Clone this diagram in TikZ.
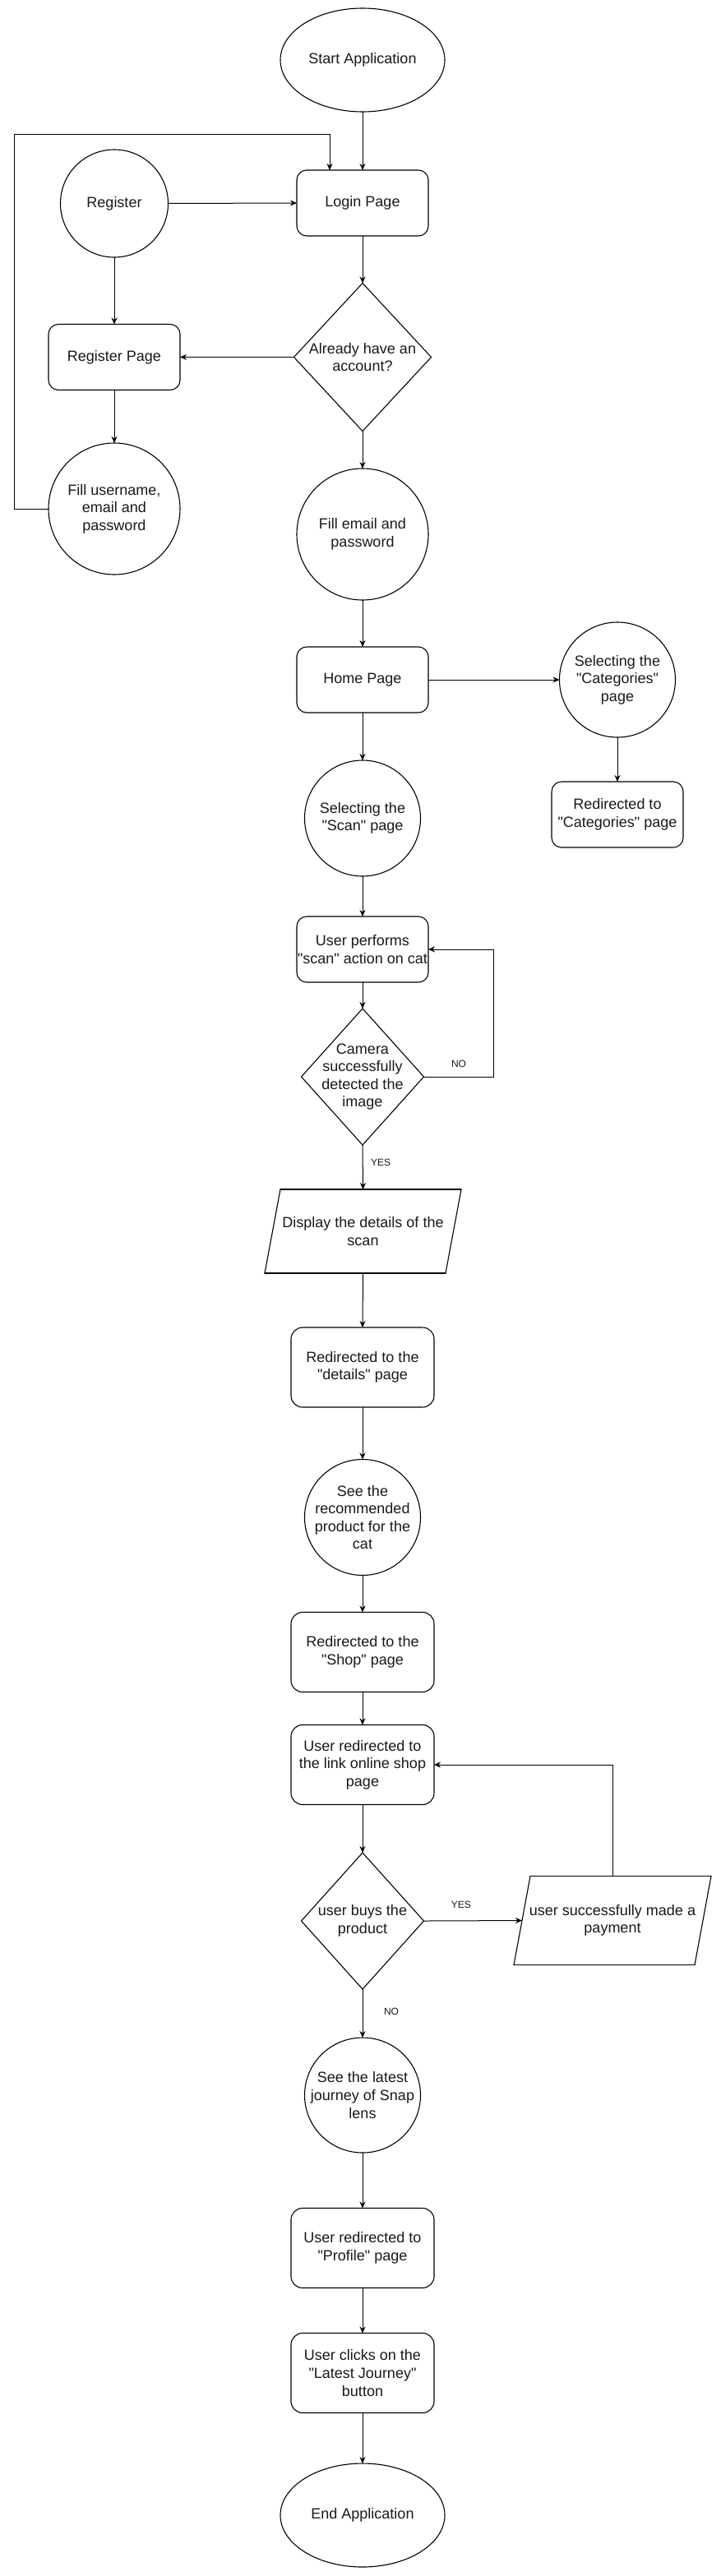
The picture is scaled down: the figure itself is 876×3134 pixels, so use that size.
\documentclass[tikz,border=0pt]{standalone}
\usepackage{fontspec}
\newfontfamily\dio{Liberation Sans}
\usetikzlibrary{shapes.geometric,arrows.meta}
\begin{document}
\begin{tikzpicture}[x=1pt,y=-1pt,
  every node/.style={inner sep=0pt, outer sep=0pt, align=center, text=black!90,
    font=\dio\fontsize{18pt}{21.6pt}\selectfont},
  shp/.style={draw=black, line width=1.1pt},
  rbox/.style={shp, rectangle, rounded corners=12pt, minimum width=160pt, minimum height=80pt},
  rboxb/.style={shp, rectangle, rounded corners=14pt, minimum width=174pt, minimum height=97pt},
  oval/.style 2 args={shp, ellipse, inner sep=-90pt, minimum width=#1, minimum height=#2},
  dia/.style 2 args={shp, diamond, inner sep=-90pt, minimum width=#1, minimum height=#2},
  para/.style n args={3}{rectangle, minimum width=#1, minimum height=#2,
    append after command={
      ([xshift=#3]\tikzlastnode.north west) edge[shp, line cap=round] (\tikzlastnode.north east)
      (\tikzlastnode.north east) edge[shp, line cap=round] ([xshift=-#3]\tikzlastnode.south east)
      ([xshift=-#3]\tikzlastnode.south east) edge[shp, line cap=round] (\tikzlastnode.south west)
      (\tikzlastnode.south west) edge[shp, line cap=round] ([xshift=#3]\tikzlastnode.north west)}},
  arr/.style={draw=black, line width=1pt, -{Stealth[length=8pt,width=7pt]}},
  lbl/.style={font=\dio\fontsize{12pt}{14pt}\selectfont}
]
\fill[white] (0,0) rectangle (876,3134);
\useasboundingbox (0,0) rectangle (876,3134);

\node[oval={200pt}{126pt}] (start) at (441,73) {Start Application};
\node[rbox] (login) at (441,247) {Login Page};
\node[oval={131pt}{131pt}] (reg) at (139,247.5) {Register};
\node[dia={167pt}{180pt}] (acc) at (441,434.5) {Already have an\\account?};
\node[rbox] (regp) at (139,434.5) {Register Page};
\node[oval={160pt}{160pt}] (fillu) at (139,619) {Fill username,\\email and\\password};
\node[oval={160pt}{160pt}] (fille) at (441,650) {Fill email and\\password};
\node[rbox] (home) at (441,827) {Home Page};
\node[oval={141pt}{140pt}] (selcat) at (751,827) {Selecting the\\"Categories"\\page};
\node[rbox] (redcat) at (751,991) {Redirected to\\"Categories" page};
\node[oval={141pt}{141pt}] (selscan) at (441,995.5) {Selecting the\\"Scan" page};
\node[rbox] (perf) at (441,1155) {User performs\\"scan" action on cat};
\node[dia={149pt}{166pt}] (cam) at (441,1310) {Camera\\successfully\\detected the\\image};
\node[para={239pt}{102pt}{19pt}] (disp) at (441.5,1498) {Display the details of the\\scan};
\node[rboxb] (det) at (441,1663.5) {Redirected to the\\"details" page};
\node[oval={141pt}{141pt}] (rec) at (441,1846) {See the\\recommended\\product for the\\cat};
\node[rboxb] (shop) at (441,2010) {Redirected to the\\"Shop" page};
\node[rboxb] (link) at (441,2147) {User redirected to\\the link online shop\\page};
\node[dia={149pt}{166pt}] (buy) at (441,2337) {user buys the\\product};
\node[para={240pt}{108pt}{20pt}] (pay) at (745,2336.5) {user successfully made a\\payment};
\node[oval={141pt}{140pt}] (late) at (441,2549) {See the latest\\journey of Snap\\lens};
\node[rboxb] (prof) at (441,2735) {User redirected to\\"Profile" page};
\node[rboxb] (click) at (441,2887) {User clicks on the\\"Latest Journey"\\button};
\node[oval={200pt}{126pt}] (endn) at (441,3060) {End Application};

\coordinate (lp) at (17,163);

\draw[arr] (start.south) -- (login.north);
\draw[arr] (reg.east) -- (login.west);
\draw[arr] (login.south) -- (acc.north);
\draw[arr] (acc.west) -- (regp.east);
\draw[arr] (reg.south) -- (regp.north);
\draw[arr] (regp.south) -- (fillu.north);
\draw[arr] (fillu.west) -| (lp) -| ([xshift=-40pt]login.north);
\draw[arr] (acc.south) -- (fille.north);
\draw[arr] (fille.south) -- (home.north);
\draw[arr] (home.east) -- (selcat.west);
\draw[arr] (selcat.south) -- (redcat.north);
\draw[arr] (home.south) -- (selscan.north);
\draw[arr] (selscan.south) -- (perf.north);
\draw[arr] (perf.south) -- (cam.north);
\draw[arr] (cam.east) -- node[lbl, above=11.5pt, pos=0.5] {NO} ([xshift=85pt]cam.east) |- (perf.east);
\draw[arr] (cam.south) -- node[lbl, right=10pt, pos=0.39] {YES} (disp.north);
\draw[arr] (disp.south) -- (det.north);
\draw[arr] (det.south) -- (rec.north);
\draw[arr] (rec.south) -- (shop.north);
\draw[arr] (shop.south) -- (link.north);
\draw[arr] (link.south) -- (buy.north);
\draw[arr] (buy.east) -- node[lbl, above=15.5pt, pos=0.38] {YES} ([xshift=10pt]pay.west);
\draw[arr] (pay.north) |- (link.east);
\draw[arr] (buy.south) -- node[lbl, right=26pt, pos=0.46] {NO} (late.north);
\draw[arr] (late.south) -- (prof.north);
\draw[arr] (prof.south) -- (click.north);
\draw[arr] (click.south) -- (endn.north);
\end{tikzpicture}
\end{document}
